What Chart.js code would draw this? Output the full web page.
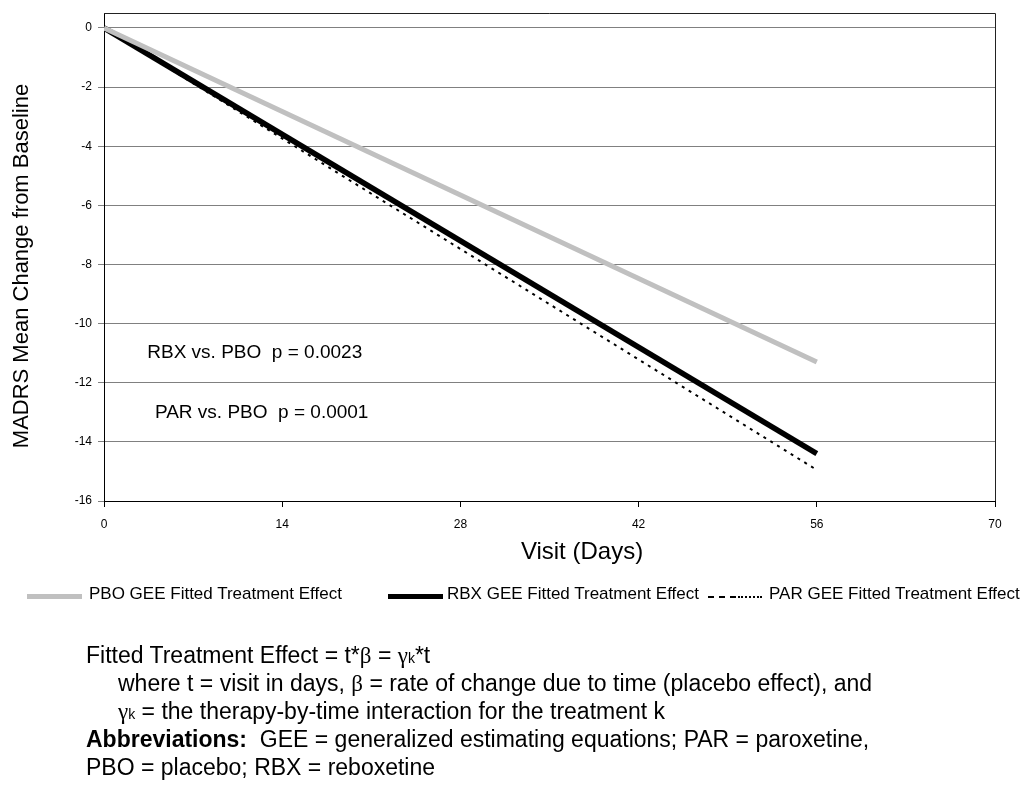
<!DOCTYPE html>
<html>
<head>
<meta charset="utf-8">
<script src="https://cdn.jsdelivr.net/npm/chart.js@4.4.1/dist/chart.umd.min.js"></script>
<style>
  html, body { margin:0; padding:0; background:#fff; }
  #wrap { position:relative; width:1025px; height:789px; overflow:hidden; font-family:"Liberation Sans", Arial, sans-serif; color:#000; }
  #c { position:absolute; left:0; top:0; }
  .t { position:absolute; white-space:nowrap; }
  .leg { font-size:17px; line-height:1; }
  .foot { font-size:23px; line-height:1; }
  .gk { font-family:"Liberation Serif", "Times New Roman", serif; }
  .sub { font-size:14px; }
  .sample { position:absolute; }
</style>
</head>
<body>
<div id="wrap">
  <canvas id="c" width="1025" height="789"></canvas>

  <div class="sample" style="left:27px; top:594px; width:55px; height:5px; background:#c0c0c0;"></div>
  <div class="t leg" style="left:89px; top:585px;">PBO GEE Fitted Treatment Effect</div>

  <div class="sample" style="left:388px; top:594px; width:55px; height:5px; background:#000;"></div>
  <div class="t leg" style="left:447px; top:585px;">RBX GEE Fitted Treatment Effect</div>

  <div class="sample" style="left:708px; top:596px; width:28px; height:0; border-top:2px dashed #000;"></div>
  <div class="sample" style="left:738px; top:596px; width:24px; height:0; border-top:2px dotted #000;"></div>
  <div class="t leg" style="left:769px; top:585px;">PAR GEE Fitted Treatment Effect</div>

  <div class="t foot" style="left:86px; top:644px;">Fitted Treatment Effect = t*<span class="gk">β</span> = <span class="gk">γ</span><span class="sub">k</span>*t</div>
  <div class="t foot" style="left:118px; top:672px;">where t = visit in days, <span class="gk">β</span> = rate of change due to time (placebo effect), and</div>
  <div class="t foot" style="left:118px; top:700px;"><span class="gk">γ</span><span class="sub">k</span> = the therapy-by-time interaction for the treatment k</div>
  <div class="t foot" style="left:86px; top:728px;"><b>Abbreviations:</b>&nbsp; GEE = generalized estimating equations; PAR = paroxetine,</div>
  <div class="t foot" style="left:86px; top:756px;">PBO = placebo; RBX = reboxetine</div>
</div>
<script>
// ---- data ----
const visitDays = [0, 56];
const pboValues = [0, -11.3];
const rbxValues = [0, -14.4];
const parValues = [0, -14.95];
const xTickValues = [0, 14, 28, 42, 56, 70];
const yTickValues = [-16, -14, -12, -10, -8, -6, -4, -2, 0];
const seriesNames = ['PBO GEE Fitted Treatment Effect', 'RBX GEE Fitted Treatment Effect', 'PAR GEE Fitted Treatment Effect'];
const annotations = [
  { text: 'RBX vs. PBO  p = 0.0023', x: 3.4, y: -11 },
  { text: 'PAR vs. PBO  p = 0.0001', x: 4.0, y: -13 }
];
const xTitle = 'Visit (Days)';
const yTitle = 'MADRS Mean Change from Baseline';

const toXY = (vals) => visitDays.map((d, i) => ({ x: d, y: vals[i] }));

const decor = {
  id: 'decor',
  afterDraw(chart) {
    const { ctx, chartArea: a, scales } = chart;
    ctx.save();
    ctx.strokeStyle = '#222';
    ctx.lineWidth = 1;
    ctx.beginPath();
    ctx.moveTo(a.left, Math.round(a.top) + 0.5);
    ctx.lineTo(Math.round(a.right) + 0.5, Math.round(a.top) + 0.5);
    ctx.lineTo(Math.round(a.right) + 0.5, a.bottom);
    ctx.stroke();
    ctx.fillStyle = '#000';
    ctx.font = '19px "Liberation Sans", Arial, sans-serif';
    ctx.textAlign = 'left';
    ctx.textBaseline = 'middle';
    annotations.forEach(an => {
      ctx.fillText(an.text, scales.x.getPixelForValue(an.x), scales.y.getPixelForValue(an.y));
    });
    ctx.font = '24px "Liberation Sans", Arial, sans-serif';
    ctx.textAlign = 'center';
    ctx.fillText(xTitle, 582, 552);
    ctx.font = '22px "Liberation Sans", Arial, sans-serif';
    ctx.translate(22, 266);
    ctx.rotate(-Math.PI / 2);
    ctx.fillText(yTitle, 0, 0);
    ctx.restore();
  }
};

new Chart(document.getElementById('c'), {
  type: 'line',
  data: {
    datasets: [
      { label: seriesNames[0], data: toXY(pboValues), borderColor: '#c0c0c0', borderWidth: 5, pointRadius: 0, tension: 0 },
      { label: seriesNames[1], data: toXY(rbxValues), borderColor: '#000', borderWidth: 5.5, pointRadius: 0, tension: 0 },
      { label: seriesNames[2], data: toXY(parValues), borderColor: '#000', borderWidth: 2, borderDash: [3, 5], pointRadius: 0, tension: 0 }
    ]
  },
  options: {
    responsive: false,
    animation: false,
    layout: { padding: { left: 0, right: 30, top: 9, bottom: 248 } },
    plugins: { legend: { display: false }, tooltip: { enabled: false } },
    scales: {
      x: {
        type: 'linear', min: 0, max: 70,
        afterBuildTicks: s => { s.ticks = xTickValues.map(v => ({ value: v })); },
        afterFit: s => { s.height = 40; },
        grid: { drawOnChartArea: false, drawTicks: true, tickLength: 6, color: '#000' },
        border: { color: '#000', width: 1 },
        ticks: { color: '#000', font: { family: '"Liberation Sans", Arial, sans-serif', size: 12 }, padding: 10, maxRotation: 0 }
      },
      y: {
        type: 'linear', min: -16, max: 0.5,
        afterBuildTicks: s => { s.ticks = yTickValues.map(v => ({ value: v })); },
        afterFit: s => { s.width = 104; },
        grid: { color: '#808080', lineWidth: 1, drawTicks: true, tickLength: 6 },
        border: { color: '#000', width: 1 },
        ticks: { color: '#000', font: { family: '"Liberation Sans", Arial, sans-serif', size: 12 }, padding: 6 }
      }
    }
  },
  plugins: [decor]
});
</script>
</body>
</html>
